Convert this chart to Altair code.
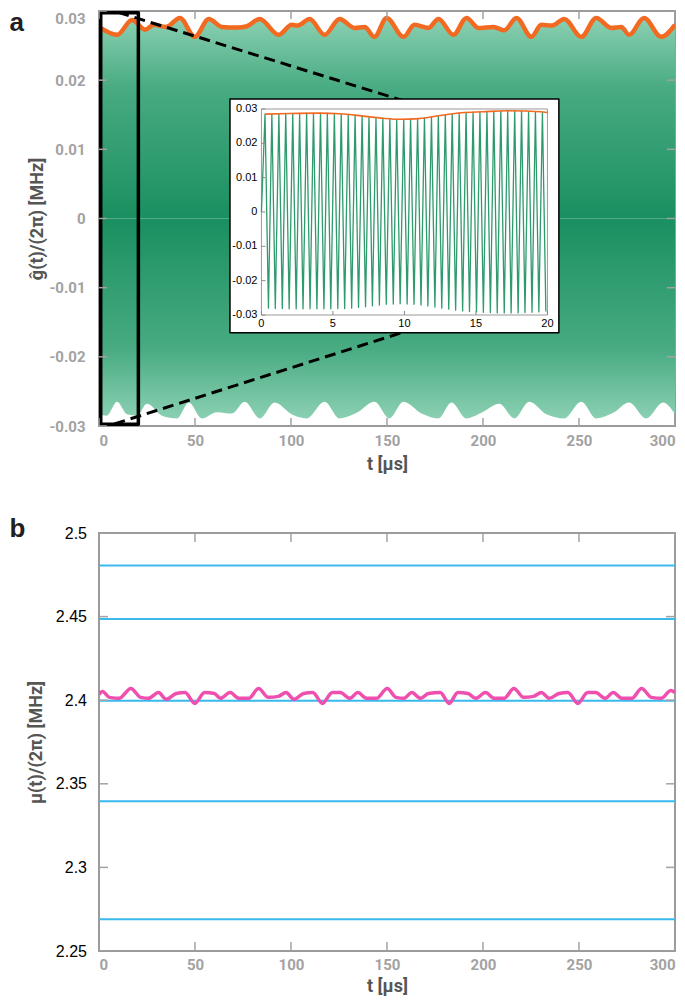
import altair as alt
import pandas as pd

# ---------------- panel a : envelopes of g(t)/(2pi) ----------------
up_t = [0, 9.4, 17.2, 24.0, 28.5, 35.0, 42.1, 49.9, 57.2, 64.0, 72.0, 77.0, 83.7, 93.6, 100.4,
        103.5, 109.7, 117.5, 125.3, 133.1, 138.3, 143.5, 149.8, 158.6, 164.3, 171.6, 176.8,
        184.6, 191.4, 197.6, 205.4, 211.1, 217.4, 225.2, 230.4, 236.0, 242.3, 251.2, 259.0,
        266.8, 272.0, 276.1, 283.9, 292.8, 300.0]
up_v = [0.0277, 0.02655, 0.0287, 0.0273, 0.0280, 0.0277, 0.0290, 0.02626, 0.02885, 0.0277,
        0.0276, 0.0278, 0.02885, 0.02655, 0.0280, 0.0279, 0.02885, 0.02655, 0.02885, 0.02755,
        0.0277, 0.02626, 0.0290, 0.02626, 0.0280, 0.02755, 0.02885, 0.02655, 0.0290, 0.02755,
        0.0277, 0.0272, 0.0290, 0.02626, 0.0280, 0.0279, 0.02885, 0.02626, 0.0290, 0.02755,
        0.0277, 0.02655, 0.0290, 0.02626, 0.0280]

lo_t = [0, 4, 9.4, 14.6, 19.8, 25, 32.8, 40.6, 46.8, 53.6, 61.4, 69.2, 75.9, 83.7, 91.5,
        100.4, 108.2, 117.5, 125.3, 134.2, 143.5, 151.3, 158.6, 168, 176.8, 183.6, 191.4,
        199.2, 208.5, 216.3, 224.1, 233, 242.3, 251.2, 259, 267.8, 276.1, 285, 293.8, 300]
lo_v = [-0.0283, -0.0285, -0.0265, -0.0283, -0.0285, -0.0268, -0.0285, -0.0289, -0.0266, -0.0289,
        -0.0280, -0.0282, -0.0265, -0.0289, -0.0266, -0.0283, -0.0289, -0.0265, -0.0289, -0.0281,
        -0.0265, -0.0289, -0.0265, -0.0282, -0.0289, -0.0266, -0.0289, -0.0281, -0.0268, -0.0289,
        -0.0265, -0.0283, -0.0289, -0.0265, -0.0289, -0.0281, -0.0266, -0.0289, -0.0266, -0.0283]

# zoom box and the two dashed guide lines (data units of panel a)
zoom_t = [0.9, 20.5]
zoom_v = [-0.02975, 0.02975]
dash_top_t = [10, 160]
dash_top_v = [0.0298, 0.0169]
dash_bot_t = [8, 160]
dash_bot_v = [-0.0297, -0.0163]

# ---------------- inset : first 20 us (inset units) ----------------
inset_peak_t = [0.25, 0.73, 1.22, 1.70, 2.19, 2.67, 3.16, 3.64, 4.13, 4.61, 5.10, 5.58, 6.07, 6.55,
                7.04, 7.52, 8.01, 8.49, 8.98, 9.46, 9.95, 10.43, 10.92, 11.40, 11.89, 12.37, 12.86,
                13.34, 13.83, 14.31, 14.80, 15.28, 15.77, 16.25, 16.74, 17.22, 17.71, 18.19, 18.68,
                19.16, 19.65]
inset_peak_v = [0.0285, 0.0286, 0.0286, 0.0287, 0.0287, 0.0287, 0.0288, 0.0288, 0.0288, 0.0288,
                0.0287, 0.0286, 0.0284, 0.0282, 0.0280, 0.0277, 0.0275, 0.0273, 0.0271, 0.0270,
                0.0270, 0.0271, 0.0272, 0.0274, 0.0277, 0.0280, 0.0283, 0.0286, 0.0288, 0.0290,
                0.0291, 0.0292, 0.0293, 0.0294, 0.0294, 0.0295, 0.0295, 0.0294, 0.0293, 0.0292,
                0.0290]
inset_trough_t = [0.0, 0.49, 0.97, 1.46, 1.94, 2.43, 2.91, 3.40, 3.88, 4.37, 4.85, 5.34, 5.82, 6.31,
                  6.79, 7.28, 7.76, 8.25, 8.73, 9.22, 9.70, 10.19, 10.67, 11.16, 11.64, 12.13,
                  12.61, 13.10, 13.58, 14.07, 14.55, 15.04, 15.52, 16.01, 16.49, 16.98, 17.46,
                  17.95, 18.43, 18.92, 19.40, 19.89]
inset_trough_v = [0.0, -0.0280, -0.0281, -0.0281, -0.0282, -0.0282, -0.0282, -0.0282, -0.0282,
                  -0.0282, -0.0282, -0.0281, -0.0281, -0.0280, -0.0278, -0.0276, -0.0273, -0.0271,
                  -0.0269, -0.0268, -0.0267, -0.0268, -0.0269, -0.0271, -0.0274, -0.0277, -0.0280,
                  -0.0283, -0.0286, -0.0288, -0.0290, -0.0291, -0.0292, -0.0293, -0.0294, -0.0294,
                  -0.0294, -0.0294, -0.0293, -0.0292, -0.0291, -0.0290]
inset_env_t = [0.25, 2.0, 4.0, 5.5, 7.0, 8.5, 9.7, 11.0, 12.5, 14.0, 15.5, 17.2, 18.5, 20.0]
inset_env_v = [0.0285, 0.0287, 0.0288, 0.0286, 0.0280, 0.0273, 0.0270, 0.0272, 0.0281, 0.0289,
               0.0292, 0.0295, 0.0294, 0.0290]
inset_box_t = [-2.2, 20.8]
inset_box_v = [-0.0352, 0.0329]

# ---------------- panel b : mu(t)/(2pi) ----------------
mu_t = [0, 1.8, 5.4, 10.5, 16.6, 21.7, 25.8, 31.0, 35.0, 40.2, 44.8, 49.9, 55.0, 60.1, 63.2,
        68.3, 72.9, 78.0, 83.1, 88.2, 93.4, 97.4, 101.5, 106.6, 111.3, 116.4, 121.5, 125.6,
        130.7, 134.8, 139.4, 144.5, 150.1, 154.7, 158.8, 162.9, 167.5, 171.6, 177.7, 182.4,
        186.9, 192.1, 196.2, 201.3, 205.9, 211.0, 216.1, 221.2, 226.3, 230.4, 234.5, 239.6,
        244.2, 249.4, 254.5, 258.6, 263.7, 267.8, 272.4, 277.5, 282.6, 287.7, 292.8, 297.9, 300]
mu_v = [2.4034, 2.4052, 2.4017, 2.4011, 2.4070, 2.4017, 2.4011, 2.4046, 2.4005, 2.4040, 2.4046,
        2.3981, 2.4046, 2.4040, 2.4011, 2.4046, 2.4011, 2.4011, 2.4070, 2.4017, 2.4023, 2.4046,
        2.4005, 2.4040, 2.4046, 2.3981, 2.4046, 2.4046, 2.4011, 2.4046, 2.4011, 2.4011, 2.4070,
        2.4017, 2.4011, 2.4046, 2.4011, 2.4040, 2.4046, 2.3981, 2.4046, 2.4040, 2.4011, 2.4046,
        2.4011, 2.4011, 2.4070, 2.4017, 2.4023, 2.4046, 2.4011, 2.4040, 2.4046, 2.3981, 2.4046,
        2.4046, 2.4011, 2.4046, 2.4011, 2.4011, 2.4070, 2.4017, 2.4011, 2.4058, 2.4046]
level_v = [2.4805, 2.4485, 2.3997, 2.3395, 2.2690]

# ticks and panel letters
x_ticks = [0, 50, 100, 150, 200, 250, 300]
ya_ticks = [-0.03, -0.02, -0.01, 0, 0.01, 0.02, 0.03]
yb_ticks = [2.25, 2.3, 2.35, 2.4, 2.45, 2.5]
inset_x_ticks = [0, 5, 10, 15, 20]
panel_letters = ["a", "b"]

# ---------------- styling / layout ----------------
FONT = "Roboto"
GRAY = "#a2a2a2"
DARK = "#555555"
ORANGE = "#f26a21"
W, H_A, H_B = 576, 415, 418
XD = [0, 300]
YA = [-0.03, 0.03]
YB = [2.25, 2.5]
TXA, TVA = 8 * (XD[1] - XD[0]) / W, 8 * (YA[1] - YA[0]) / H_A
TXB, TVB = 9 * (XD[1] - XD[0]) / W, 9 * (YB[1] - YB[0]) / H_B
# placement of the inset inside panel a: main_t = T0 + TS*t, main_v = V0 + VS*v
T0, TS = 84.6, 7.448
V0, VS = 0.00094, 0.4964
ITICK_T, ITICK_V = 0.28, 0.00117
NEG_EXPR = "datum.value == 0 ? '0' : (datum.value < 0 ? '-' : '') + format(abs(datum.value), '.2f')"
NEG_CALC = "datum.v == 0 ? '0' : (datum.v < 0 ? '-' : '') + format(abs(datum.v), '.2f')"

xa_scale = alt.Scale(domain=XD, nice=False, zero=False)
ya_scale = alt.Scale(domain=YA, nice=False, zero=False)
xb_scale = alt.Scale(domain=XD, nice=False, zero=False)
yb_scale = alt.Scale(domain=YB, nice=False, zero=False)


def x_bottom(lp, tp):
    return alt.Axis(orient="bottom", values=x_ticks, ticks=False, domain=False, grid=False,
                    labelFont=FONT, labelFontSize=15, labelFontWeight="bold", labelColor=GRAY,
                    labelPadding=lp, labelFlush=True, title="t [μs]", titleFont=FONT,
                    titleFontSize=18, titleFontWeight="bold", titleColor=DARK, titlePadding=tp,
                    minExtent=0, maxExtent=200)


ya_left = alt.Axis(orient="left", values=ya_ticks, ticks=False, domain=False, grid=False,
                   labelFont=FONT, labelFontSize=15, labelFontWeight="bold", labelColor=GRAY,
                   labelPadding=14, labelExpr=NEG_EXPR,
                   labelBaseline={"condition": {"test": "datum.value > 0.029", "value": "top"},
                                  "value": "middle"},
                   title="ĝ(t)/(2π) [MHz]", titleFont=FONT, titleFontSize=18,
                   titleFontWeight="bold", titleColor=DARK, titlePadding=3.5,
                   minExtent=49, maxExtent=49)

yb_left = alt.Axis(orient="left", values=yb_ticks, ticks=False, domain=False, grid=False,
                   labelFont="Liberation Sans", labelFontSize=16, labelColor="black",
                   labelPadding=12.5, format="~g",
                   title="μ(t)/(2π) [MHz]", titleFont=FONT, titleFontSize=18,
                   titleFontWeight="bold", titleColor=DARK, titlePadding=9.5,
                   minExtent=44, maxExtent=44)

# ---------------- data frames ----------------
up_df = pd.DataFrame({"t": up_t, "v": up_v})
lo_df = pd.DataFrame({"t": lo_t, "v": lo_v})
zoom_df = pd.DataFrame({"t1": [zoom_t[0]], "t2": [zoom_t[1]], "v1": [zoom_v[0]], "v2": [zoom_v[1]]})
dash_df = pd.DataFrame({"t": dash_top_t + dash_bot_t, "v": dash_top_v + dash_bot_v,
                        "g": ["top", "top", "bot", "bot"]})
zig_df = pd.DataFrame({"t": inset_trough_t + inset_peak_t, "v": inset_trough_v + inset_peak_v})
zig_df = zig_df.sort_values("t").reset_index(drop=True)
ienv_df = pd.DataFrame({"t": inset_env_t, "v": inset_env_v})
ibox_df = pd.DataFrame({"t1": [inset_box_t[0]], "t2": [inset_box_t[1]],
                        "v1": [inset_box_v[0]], "v2": [inset_box_v[1]]})
iframe_df = pd.DataFrame({"t1": [inset_x_ticks[0]], "t2": [inset_x_ticks[-1]],
                          "v1": [ya_ticks[0]], "v2": [ya_ticks[-1]]})
ixt_df = pd.DataFrame({"t": inset_x_ticks, "v": [ya_ticks[0]] * len(inset_x_ticks)})
iyt_df = pd.DataFrame({"t": [inset_x_ticks[0]] * len(ya_ticks), "v": ya_ticks})
mu_df = pd.DataFrame({"t": mu_t, "v": mu_v})
lev_df = pd.DataFrame({"v": level_v})


def xtick_df(ydom, tv):
    rows = []
    for t in x_ticks:
        rows.append({"t": t, "v1": ydom[0], "v2": ydom[0] + tv})
        rows.append({"t": t, "v1": ydom[1], "v2": ydom[1] - tv})
    return pd.DataFrame(rows)


def ytick_df(yvals, tx):
    rows = []
    for v in yvals:
        rows.append({"v": v, "t1": XD[0], "t2": XD[0] + tx})
        rows.append({"v": v, "t1": XD[1], "t2": XD[1] - tx})
    return pd.DataFrame(rows)


grad_up = {"gradient": "linear", "x1": 0, "y1": 0, "x2": 0, "y2": 1,
           "stops": [{"offset": 0, "color": "#8ad0b2"}, {"offset": 0.35, "color": "#48ab81"},
                     {"offset": 1, "color": "#1a8f60"}]}
grad_lo = {"gradient": "linear", "x1": 0, "y1": 0, "x2": 0, "y2": 1,
           "stops": [{"offset": 0, "color": "#1a8f60"}, {"offset": 0.65, "color": "#48ab81"},
                     {"offset": 1, "color": "#8ad0b2"}]}


def mt(field):
    return f"{T0} + {TS} * datum.{field}"


def mv(field, extra=0.0):
    return f"{V0} + {VS} * (datum.{field} + ({extra}))"


def XA(field):
    return alt.X(field, type="quantitative", scale=xa_scale, axis=None)


def YA_(field):
    return alt.Y(field, type="quantitative", scale=ya_scale, axis=None)


def XB(field):
    return alt.X(field, type="quantitative", scale=xb_scale, axis=None)


def YB_(field):
    return alt.Y(field, type="quantitative", scale=yb_scale, axis=None)


def letter(ch, ypix):
    return alt.Chart(pd.DataFrame({"s": [ch]})).mark_text(
        align="left", baseline="top", font="Liberation Sans", fontSize=26, fontWeight="bold",
        color="#231f20").encode(text="s:N", x=alt.value(-89.5), y=alt.value(ypix))


# ---------------- panel a ----------------
area_up = alt.Chart(up_df).mark_area(interpolate="monotone", color=grad_up, clip=True).encode(
    x=alt.X("t:Q", scale=xa_scale, axis=x_bottom(7, 7)),
    y=alt.Y("v:Q", scale=ya_scale, axis=ya_left),
    y2=alt.datum(0),
)
area_lo = alt.Chart(lo_df).mark_area(interpolate="monotone", color=grad_lo, clip=True).encode(
    x=XA("t"), y=YA_("v"), y2=alt.datum(0))
env_line = alt.Chart(up_df).mark_line(interpolate="monotone", color=ORANGE, strokeWidth=4.5,
                                      strokeJoin="round", clip=True).encode(
    x=XA("t"), y=YA_("v"))
zoom_rect = alt.Chart(zoom_df).mark_rect(fillOpacity=0, stroke="black", strokeWidth=3.5,
                                         strokeJoin="round").encode(
    x=XA("t1"), x2="t2:Q", y=YA_("v1"), y2="v2:Q")
dashes = alt.Chart(dash_df).mark_line(color="black", strokeWidth=3, strokeDash=[11, 6],
                                      strokeJoin="round", clip=True).encode(
    x=XA("t"), y=YA_("v"), detail="g:N")
a_xticks = alt.Chart(xtick_df(YA, TVA)).mark_rule(color=GRAY, strokeWidth=1.5, clip=True).encode(
    x=XA("t"), y=YA_("v1"), y2="v2:Q")
a_yticks = alt.Chart(ytick_df(ya_ticks, TXA)).mark_rule(color=GRAY, strokeWidth=1.5, clip=True).encode(
    x=XA("t1"), x2="t2:Q", y=YA_("v"))

# inset, placed inside panel a through a linear map of its own units
ibox = alt.Chart(ibox_df).transform_calculate(
    a1=mt("t1"), a2=mt("t2"), b1=mv("v1"), b2=mv("v2")
).mark_rect(fill="white", stroke="black", strokeWidth=1.5, strokeJoin="round").encode(
    x=XA("a1"), x2="a2:Q", y=YA_("b1"), y2="b2:Q")
iframe = alt.Chart(iframe_df).transform_calculate(
    a1=mt("t1"), a2=mt("t2"), b1=mv("v1"), b2=mv("v2")
).mark_rect(fillOpacity=0, stroke="#9a9a9a", strokeWidth=1, strokeJoin="round").encode(
    x=XA("a1"), x2="a2:Q", y=YA_("b1"), y2="b2:Q")
zig = alt.Chart(zig_df).transform_calculate(a=mt("t"), b=mv("v")).mark_line(
    color="#2f9a6c", strokeWidth=1.3, strokeJoin="round", clip=True).encode(
    x=XA("a"), y=YA_("b"), order="t:Q")
ienv = alt.Chart(ienv_df).transform_calculate(a=mt("t"), b=mv("v")).mark_line(
    color=ORANGE, strokeWidth=1.6, interpolate="monotone", strokeJoin="round", clip=True).encode(
    x=XA("a"), y=YA_("b"))
ix_ticks = alt.Chart(ixt_df).transform_calculate(
    a=mt("t"), b1=mv("v"), b2=mv("v", ITICK_V)
).mark_rule(color="#8a8a8a", strokeWidth=1).encode(x=XA("a"), y=YA_("b1"), y2="b2:Q")
iy_ticks = alt.Chart(iyt_df).transform_calculate(
    a1=mt("t"), a2=f"{T0} + {TS} * (datum.t + {ITICK_T})", b=mv("v")
).mark_rule(color="#8a8a8a", strokeWidth=1).encode(x=XA("a1"), x2="a2:Q", y=YA_("b"))
ix_labels = alt.Chart(ixt_df).transform_calculate(
    a=mt("t"), b=mv("v"), lab="format(datum.t, 'd')"
).mark_text(baseline="top", dy=3, font="Liberation Sans", fontSize=11, color="black").encode(
    x=XA("a"), y=YA_("b"), text="lab:N")
iy_labels = alt.Chart(iyt_df).transform_calculate(
    a=mt("t"), b=mv("v"), lab=NEG_CALC
).mark_text(align="right", baseline="middle", dx=-4, font="Liberation Sans", fontSize=11,
            color="black").encode(x=XA("a"), y=YA_("b"), text="lab:N")

panel_a = alt.layer(
    area_up, area_lo, env_line, zoom_rect, dashes, a_xticks, a_yticks,
    ibox, iframe, zig, ienv, ix_ticks, iy_ticks, ix_labels, iy_labels,
    letter(panel_letters[0], -1.5),
).resolve_axis(x="independent", y="independent").properties(width=W, height=H_A)

# ---------------- panel b ----------------
levels = alt.Chart(lev_df).mark_rule(color="#3ab9ec", strokeWidth=2, clip=True).encode(
    y=alt.Y("v:Q", scale=yb_scale, axis=yb_left),
)
mu_line = alt.Chart(mu_df).mark_line(color="#ef4fae", strokeWidth=3.5, interpolate="monotone",
                                     strokeJoin="round", clip=True).encode(
    x=alt.X("t:Q", scale=xb_scale, axis=x_bottom(6, 5)),
    y=YB_("v"),
)
b_xticks = alt.Chart(xtick_df(YB, TVB)).mark_rule(color=GRAY, strokeWidth=1.5, clip=True).encode(
    x=XB("t"), y=YB_("v1"), y2="v2:Q")
b_yticks = alt.Chart(ytick_df(yb_ticks, TXB)).mark_rule(color=GRAY, strokeWidth=1.5, clip=True).encode(
    x=XB("t1"), x2="t2:Q", y=YB_("v"))
panel_b = alt.layer(levels, mu_line, b_xticks, b_yticks,
                    letter(panel_letters[1], -17)).resolve_axis(
    x="independent", y="independent").properties(width=W, height=H_B)

chart = alt.vconcat(panel_a, panel_b, spacing=41).properties(padding=0).configure_view(
    stroke="#9b9b9b", strokeWidth=2).configure_axis(grid=False)

chart.save("out.html", embed_options={"renderer": "svg", "actions": False})
